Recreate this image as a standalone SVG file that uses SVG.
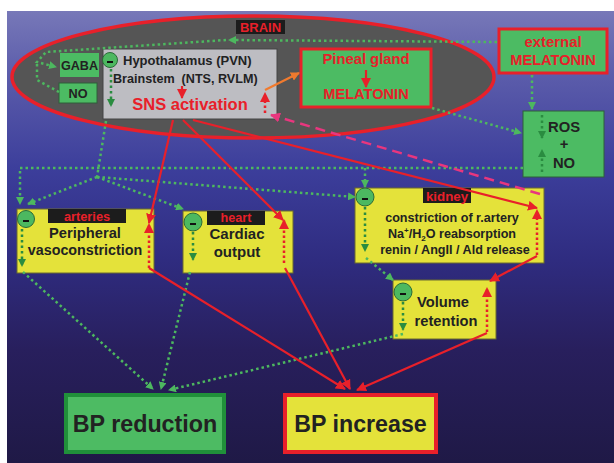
<svg xmlns="http://www.w3.org/2000/svg" width="614" height="463" viewBox="0 0 614 463">
<defs>
<linearGradient id="bg" x1="0" y1="0" x2="0" y2="1">
<stop offset="0" stop-color="#7778b8"/>
<stop offset="0.15" stop-color="#5a5baa"/>
<stop offset="0.35" stop-color="#3c3e9b"/>
<stop offset="0.55" stop-color="#2f2c80"/>
<stop offset="0.75" stop-color="#281f5d"/>
<stop offset="1" stop-color="#1f1946"/>
</linearGradient>
<marker id="ag" markerWidth="8" markerHeight="8" refX="7" refY="4" orient="auto" markerUnits="userSpaceOnUse"><path d="M0,0 L8,4 L0,8 z" fill="#4db85f"/></marker>
<marker id="adg" markerWidth="8" markerHeight="8" refX="7" refY="4" orient="auto" markerUnits="userSpaceOnUse"><path d="M0,0 L8,4 L0,8 z" fill="#2a8c40"/></marker>
<marker id="ar" markerWidth="10" markerHeight="10" refX="9" refY="5" orient="auto" markerUnits="userSpaceOnUse"><path d="M0,0 L10,5 L0,10 z" fill="#e8202a"/></marker>
<marker id="ap" markerWidth="10" markerHeight="10" refX="9" refY="5" orient="auto" markerUnits="userSpaceOnUse"><path d="M0,0 L10,5 L0,10 z" fill="#e8367e"/></marker>
<marker id="ao" markerWidth="9" markerHeight="9" refX="8" refY="4.5" orient="auto" markerUnits="userSpaceOnUse"><path d="M0,0 L9,4.5 L0,9 z" fill="#f07a2e"/></marker>
</defs>
<style>
text{font-family:"Liberation Sans",Arial,sans-serif;font-weight:bold;}
.t{fill:#222222;}
.rt{fill:#e8202a;}
.gbox{fill:#4cbb63;stroke:#2f5f3a;stroke-width:1;}
.gboxr{fill:#4cbb63;stroke:#e8202a;stroke-width:3;}
.ybox{fill:#e4e23a;stroke:#6a6a30;stroke-width:1;}
.lab{fill:#1c1c1c;}
.minus{fill:#4cb860;stroke:#2a6a38;stroke-width:1;}
.gd{fill:none;stroke:#4db85f;stroke-width:2.5;stroke-dasharray:2.5 3;}
.dgd{fill:none;stroke:#2a8c40;stroke-width:2.5;stroke-dasharray:2.5 3;}
.rd{fill:none;stroke:#e8202a;stroke-width:2.5;stroke-dasharray:2.5 2.5;}
.rs{fill:none;stroke:#e8202a;stroke-width:2.2;}
</style>
<rect x="0" y="0" width="614" height="463" fill="#ffffff"/>
<rect x="7" y="11" width="607" height="452" fill="url(#bg)"/>

<g id="brain">
<ellipse cx="253" cy="77" rx="241" ry="61" fill="#555555" stroke="#e8202a" stroke-width="3.5"/>
<rect x="236" y="20" width="49" height="14" class="lab"/>
<text x="260.5" y="32" font-size="13" text-anchor="middle" class="rt">BRAIN</text>
</g>

<g id="hypothalamus">
<rect x="103" y="49" width="174" height="70" fill="#bdbdc2" stroke="#444" stroke-width="1"/>
<circle cx="110" cy="60" r="7.5" class="minus"/>
<rect x="107" y="61" width="6" height="2" fill="#111"/>
<text x="123" y="65" font-size="13" class="t">Hypothalamus (PVN)</text>
<text x="113" y="83" font-size="12.6" class="t" xml:space="preserve">Brainstem  (NTS, RVLM)</text>
<text x="190" y="110" font-size="16.5" text-anchor="middle" class="rt">SNS activation</text>
<path d="M182,86 L182,98" class="rs" marker-end="url(#ar)"/>
<path d="M111,69 L111,106" class="dgd" marker-end="url(#adg)"/>
<path d="M265,113 L265,93" class="rd" marker-end="url(#ar)"/>
</g>

<g id="gaba">
<rect x="60" y="53" width="39" height="24" fill="#4cbb63"/>
<text x="79.5" y="70" font-size="12.6" text-anchor="middle" class="t">GABA</text>
</g>
<g id="no">
<rect x="59" y="83" width="38" height="20" class="gbox"/>
<text x="78" y="98" font-size="12.7" text-anchor="middle" class="t">NO</text>
</g>

<g id="pineal">
<rect x="301" y="49" width="130" height="58" class="gboxr"/>
<text x="366" y="64" font-size="14.8" text-anchor="middle" class="rt">Pineal gland</text>
<path d="M366,70 L366,87" class="rs" marker-end="url(#ar)"/>
<text x="366" y="99" font-size="14.6" text-anchor="middle" class="rt">MELATONIN</text>
</g>

<g id="external">
<rect x="499" y="29" width="108" height="44" class="gboxr"/>
<text x="553" y="47" font-size="14.9" text-anchor="middle" class="rt">external</text>
<text x="553" y="65" font-size="14.6" text-anchor="middle" class="rt">MELATONIN</text>
</g>

<g id="ros">
<rect x="523" y="111" width="81" height="66" class="gbox"/>
<text x="564" y="132" font-size="14.8" text-anchor="middle" class="t">ROS</text>
<text x="564" y="149" font-size="14.8" text-anchor="middle" class="t">+</text>
<text x="564" y="168" font-size="14.8" text-anchor="middle" class="t">NO</text>
<path d="M542,115 L542,138" class="dgd" marker-end="url(#adg)"/>
<path d="M542,172 L542,150" class="dgd" marker-end="url(#adg)"/>
</g>

<g id="arteries">
<rect x="17" y="209" width="137" height="64" class="ybox"/>
<rect x="48" y="209" width="78" height="14" class="lab"/>
<text x="87" y="220.5" font-size="12.8" text-anchor="middle" class="rt">arteries</text>
<circle cx="26" cy="219" r="8.5" class="minus"/>
<rect x="23" y="220" width="6" height="2" fill="#111"/>
<text x="85" y="237.5" font-size="14.7" text-anchor="middle" class="t">Peripheral</text>
<text x="85" y="255" font-size="14.3" text-anchor="middle" class="t">vasoconstriction</text>
<path d="M22,229 L22,266" class="dgd" marker-end="url(#adg)"/>
<path d="M149,268 L149,224" class="rd" marker-end="url(#ar)"/>
</g>

<g id="heart">
<rect x="183" y="211" width="110" height="62" class="ybox"/>
<rect x="207" y="211" width="58" height="14" class="lab"/>
<text x="236" y="222" font-size="12.6" text-anchor="middle" class="rt">heart</text>
<circle cx="193" cy="222" r="9" class="minus"/>
<rect x="190" y="223" width="6" height="2" fill="#111"/>
<text x="237" y="239" font-size="15" text-anchor="middle" class="t">Cardiac</text>
<text x="237" y="256.5" font-size="15" text-anchor="middle" class="t">output</text>
<path d="M193,232 L193,260" class="dgd" marker-end="url(#adg)"/>
<path d="M284,263 L284,220" class="rd" marker-end="url(#ar)"/>
</g>

<g id="kidney">
<rect x="355" y="188" width="189" height="75" class="ybox"/>
<rect x="423" y="188" width="48" height="15" class="lab"/>
<text x="447" y="201" font-size="13.3" text-anchor="middle" class="rt">kidney</text>
<circle cx="365" cy="197" r="9" class="minus"/>
<rect x="362" y="198" width="6" height="2" fill="#111"/>
<text x="452" y="222" font-size="12.6" text-anchor="middle" class="t">constriction of r.artery</text>
<text x="452" y="238" font-size="12.6" text-anchor="middle" class="t">Na<tspan font-size="8" dy="-5">+</tspan><tspan dy="5">/H</tspan><tspan font-size="8" dy="3">2</tspan><tspan dy="-3">O reabsorption</tspan></text>
<text x="455" y="254" font-size="12.6" text-anchor="middle" class="t">renin / AngII / Ald release</text>
<path d="M365,207 L365,251" class="dgd" marker-end="url(#adg)"/>
<path d="M537,255 L537,210" class="rd" marker-end="url(#ar)"/>
</g>

<g id="volume">
<rect x="393" y="280" width="103" height="59" class="ybox"/>
<circle cx="403" cy="292" r="9" class="minus"/>
<rect x="400" y="293" width="6" height="2" fill="#111"/>
<text x="443" y="307" font-size="14.7" text-anchor="middle" class="t">Volume</text>
<text x="446" y="326" font-size="14.7" text-anchor="middle" class="t">retention</text>
<path d="M403,302 L403,330" class="dgd" marker-end="url(#adg)"/>
<path d="M487,332 L487,288" class="rd" marker-end="url(#ar)"/>
</g>

<g id="bp-reduction">
<rect x="66" y="395" width="158" height="57" fill="#4dbb63" stroke="#20903a" stroke-width="4"/>
<text x="145" y="432" font-size="23.3" text-anchor="middle" class="t">BP reduction</text>
</g>

<g id="bp-increase">
<rect x="285" y="395" width="151" height="57" fill="#e4e23a" stroke="#e8202a" stroke-width="4"/>
<text x="360.5" y="432" font-size="23.2" text-anchor="middle" class="t">BP increase</text>
</g>

<g id="connectors">
<path d="M497,42 L229,40" class="gd" marker-end="url(#ag)"/>
<path d="M226,40 L46,52 L37,62 L56,67" class="gd" marker-end="url(#ag)"/>
<path d="M59,92 L37,80 L37,64" class="gd"/>
<path d="M532,75 L532,109" class="gd" marker-end="url(#ag)"/>
<path d="M432,108 L521,133" class="gd" marker-end="url(#ag)"/>
<path d="M523,168 L20,168 L20,204" class="gd" marker-end="url(#ag)"/>
<path d="M365,168 L365,187" class="gd" marker-end="url(#ag)"/>
<path d="M106,121 L97,177" class="gd"/>
<path d="M97,177 L28,204" class="gd" marker-end="url(#ag)"/>
<path d="M97,177 L183,209" class="gd" marker-end="url(#ag)"/>
<path d="M97,177 L355,197" class="gd" marker-end="url(#ag)"/>
<path d="M23,272 L153,389" class="gd" marker-end="url(#ag)"/>
<path d="M190,272 L161,389" class="gd" marker-end="url(#ag)"/>
<path d="M403,334 L169,390" class="gd" marker-end="url(#ag)"/>
<path d="M366,258 L393,280" class="gd" marker-end="url(#ag)"/>

<path d="M173,120 L149,223" class="rs" marker-end="url(#ar)"/>
<path d="M183,120 L283,220" class="rs" marker-end="url(#ar)"/>
<path d="M193,120 L537,208" class="rs" marker-end="url(#ar)"/>
<path d="M149,268 L345,389" class="rs" marker-end="url(#ar)"/>
<path d="M285,268 L350,389" class="rs" marker-end="url(#ar)"/>
<path d="M487,333 L357,390" class="rs" marker-end="url(#ar)"/>
<path d="M537,256 L490,281" class="rs" marker-end="url(#ar)"/>

<path d="M265,90 L299,73" fill="none" stroke="#f07a2e" stroke-width="2.2" marker-end="url(#ao)"/>
<path d="M540,194 L271,115" fill="none" stroke="#e8367e" stroke-width="2.5" stroke-dasharray="10 6" marker-end="url(#ap)"/>
</g>
</svg>
